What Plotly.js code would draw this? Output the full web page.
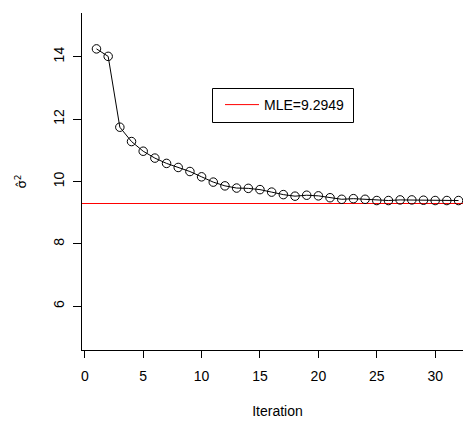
<!DOCTYPE html>
<html>
<head>
<meta charset="utf-8">
<script src="https://cdn.plot.ly/plotly-3.0.1.min.js"></script>
<style>
html, body { margin: 0; padding: 0; overflow: hidden; background: #fff; }
#chart { width: 473px; height: 421px; }
</style>
</head>
<body>
<div id="chart"></div>
<script>
// Data
const iterations = [1,2,3,4,5,6,7,8,9,10,11,12,13,14,15,16,17,18,19,20,21,22,23,24,25,26,27,28,29,30,31,32];
const sigma2Hat = [14.25,14.01,11.74,11.28,10.97,10.75,10.58,10.45,10.32,10.15,9.98,9.86,9.79,9.78,9.74,9.66,9.58,9.53,9.56,9.54,9.48,9.43,9.45,9.43,9.39,9.39,9.41,9.41,9.40,9.39,9.39,9.39];
const mleValue = 9.2949;
const mleLabel = "MLE=9.2949";
const xTicks = [0,5,10,15,20,25,30];
const yTicks = [6,8,10,12,14];
const xRange = [-0.24, 33.24];
const yRange = [4.6, 15.4];

const font = {family: "Liberation Sans, Arial, Helvetica, sans-serif", size: 14, color: "#000"};

const traces = [
  {
    x: [xRange[0], xRange[1]], y: [mleValue, mleValue], type: "scatter", mode: "lines",
    name: mleLabel, line: {color: "#ff0000", width: 1}, showlegend: true
  },
  {
    x: iterations, y: sigma2Hat, type: "scatter", mode: "lines+markers",
    line: {color: "#000", width: 1},
    marker: {symbol: "circle-open", size: 8.5, color: "#000", line: {width: 1, color: "#000"}},
    showlegend: false, cliponaxis: false
  }
];

const W = 473, H = 421, ML = 82, MT = 13, MB = 71;
const PW = W - ML, PH = H - MT - MB;
const px = v => (v - ML) / PW;
const py = v => (H - MB - v) / PH;

const layout = {
  width: W, height: H,
  margin: {l: ML, r: 0, t: MT, b: MB, pad: 0},
  paper_bgcolor: "#fff", plot_bgcolor: "#fff",
  font: font,
  showlegend: true,
  legend: {
    x: px(220), y: py(89), xanchor: "left", yanchor: "top",
    bgcolor: "rgba(0,0,0,0)", borderwidth: 0,
    font: font, itemwidth: 34
  },
  shapes: [
    {type: "rect", xref: "paper", yref: "paper",
     x0: px(212.5), x1: px(353.5), y0: py(88.5), y1: py(122.5),
     line: {color: "#000", width: 1}, fillcolor: "rgba(0,0,0,0)", layer: "above"}
  ],
  xaxis: {
    range: xRange, tickvals: xTicks, ticktext: xTicks.map(String),
    showgrid: false, zeroline: false, showline: true, linecolor: "#000", linewidth: 1,
    ticks: "outside", ticklen: 7, tickcolor: "#000", tickwidth: 1,
    ticklabelstandoff: 6,
    title: {text: "Iteration", font: font, standoff: 23}
  },
  yaxis: {
    range: yRange, tickvals: yTicks, ticktext: yTicks.map(String),
    showgrid: false, zeroline: false, showline: true, linecolor: "#000", linewidth: 1,
    ticks: "outside", ticklen: 8, tickcolor: "#000", tickwidth: 1,
    tickangle: -90, ticklabelstandoff: 3,
    title: {text: "σ\u0302<sup>2</sup>", font: {family: "DejaVu Sans, sans-serif", size: 13, color: "#000"}, standoff: 21}
  }
};

Plotly.newPlot("chart", traces, layout, {displayModeBar: false, staticPlot: true});
</script>
</body>
</html>
